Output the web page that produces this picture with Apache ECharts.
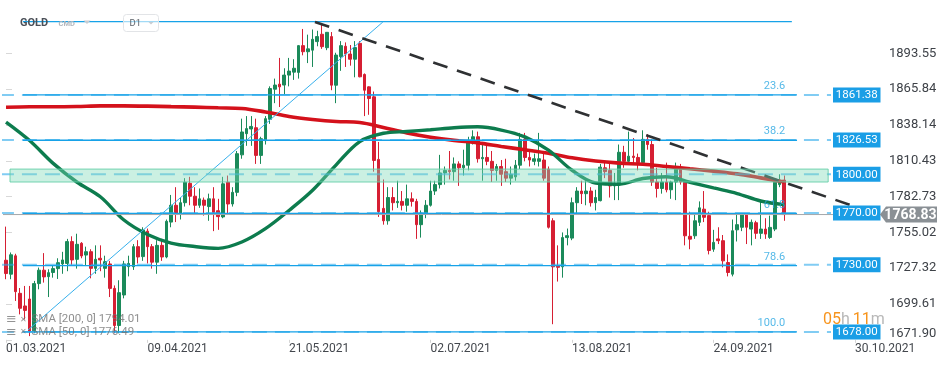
<!DOCTYPE html>
<html><head><meta charset="utf-8">
<script src="https://cdn.jsdelivr.net/npm/echarts@6/dist/echarts.min.js"></script>
<style>html,body{margin:0;padding:0;background:#fff}#c{width:950px;height:365px}</style>
</head><body><div id="c"></div>
<script>
// ---------- data ----------
const tickLabels = ['01.03.2021','09.04.2021','21.05.2021','02.07.2021','13.08.2021','24.09.2021','30.10.2021'];
const tickIndex = [0,30,60,90,120,150,180];
const slotCount = 186;

const open = [1733.5,1722.7,1736.9,1707.9,1698.1,1703.5,1679,1715.4,1725.8,1720.8,
1724,1727,1730.6,1731,1747.9,1734.2,1746.6,1737.5,1740.1,1727.2,
1735,1727.2,1730.6,1711.7,1683,1706.6,1728.5,1728.5,1744,1736.3,
1756,1744,1732,1745,1736,1763,1776,1770,1778,1793,
1783,1776,1780,1775,1781,1771.8,1767,1793.8,1777,1786,
1815,1831.4,1835,1836,1814.6,1826,1842.5,1865.8,1869.7,1869,
1876.7,1879,1878.8,1899.5,1894.8,1896,1902.6,1908.3,1897.9,1906.5,
1868.9,1891,1899,1893,1889,1901.3,1877.2,1867.6,1859.9,1811.5,
1773.6,1764,1782,1778,1779,1776,1781,1779,1761,1770,
1776,1787,1792,1801,1803,1802,1808,1805,1807,1826,
1829,1812,1813,1810,1803,1806,1802,1797,1798,1807,
1827,1813,1810,1810,1811,1804,1764,1729,1728.4,1751,
1750.6,1778,1787,1785,1787,1778,1779.6,1805,1803,1791,
1792,1817,1810,1814,1813,1809,1827,1823,1794,1789,
1794,1788,1794,1805,1793.8,1752,1752.4,1762.8,1773,1768,
1742,1750,1748.6,1731.7,1722.7,1757,1759,1769.3,1757.6,1762.5,
1754.3,1757.6,1751.1,1757.6,1792,1795.5];
const high = [1759.5,1739.5,1738.5,1712,1713.6,1713.6,1717.5,1727.8,1739,1726.5,
1729,1735,1740,1750,1752,1754,1747.5,1744,1742,1745,
1745,1737,1733,1714,1718,1733,1737,1746,1749,1759,
1758,1746,1749,1750,1765,1784,1790,1782,1797,1798,
1790,1789,1782,1785,1790,1781,1798,1799,1790,1818,
1843,1845,1845,1843,1829,1845,1868,1874,1890,1882,
1890,1889,1900,1912.4,1908,1912,1911,1916,1910,1910,
1894,1903,1902,1900,1903,1903,1878,1868,1864,1825,
1796,1790,1790,1795,1787,1792,1786,1781,1772,1780,
1795,1795,1815,1806,1818,1813,1810,1819,1829,1834,
1833,1825,1823,1818,1808,1811,1812,1806,1811,1832,
1832,1819,1816,1832,1816,1806,1766,1745,1755,1758,
1782,1790,1795,1795,1790,1788,1808,1809,1808,1801,
1823,1822,1833,1828,1816,1834,1831,1827,1805,1801,
1809,1795,1809,1808,1795,1771,1770,1779,1787,1771,
1757,1759,1753,1738,1765,1770,1770,1770,1765,1764,
1780,1766,1768,1796,1800,1799];
const low = [1718.8,1718.8,1702,1691.6,1687.7,1674.8,1677,1711,1716.2,1705,
1720,1719,1723,1725,1730,1727,1735,1729,1719.5,1723,
1725,1720,1705,1677,1677,1704,1721,1726,1731,1733,
1731,1727,1723,1733,1735,1759,1763,1765,1775,1776,
1770,1774,1768,1764,1756,1757,1766,1770,1775,1783,
1812,1822,1822,1808,1808,1823,1839,1855,1852,1862,
1868,1873,1874,1892,1886,1883,1899,1897,1896,1865,
1855,1880,1883,1884,1875,1875,1845,1846,1802,1767,
1761,1761,1772,1774,1772,1771,1775,1750,1751,1766,
1775,1784,1789,1792,1796,1795,1791,1799,1803,1823,
1809,1795,1807,1794,1795,1791,1794,1792,1795,1804,
1810,1806,1807,1806,1795,1758,1684,1717,1720,1745,
1749,1770,1777,1776,1775,1772,1779,1797,1782,1780,
1780,1805,1809,1808,1803,1808,1819,1791,1782,1785,
1786,1781,1780,1792,1745,1742,1750,1760,1763,1738,
1740,1746,1728,1721,1721,1748,1756,1746,1745,1750,
1750,1750,1750,1756,1790,1764];
const close = [1723.2,1737.7,1709.2,1696.3,1694.7,1678.7,1715.4,1725.8,1720.6,1723.9,
1727,1731.6,1733.7,1747.9,1733.7,1745.8,1736.8,1740.1,1727.2,1734.2,
1733.7,1732.4,1711.7,1683,1708.4,1730.6,1731,1744,1736,1756.9,
1744,1732,1745,1736,1763.6,1776,1770,1778,1793.8,1783,
1776,1781,1776,1781,1770.5,1767.2,1792.6,1777,1786,1815.9,
1832.7,1835.3,1837,1814.6,1827.5,1843,1866.3,1869,1867.6,1876.7,
1879.8,1882,1899.5,1894.8,1897,1904.4,1906.5,1898.7,1909.8,1868.9,
1892.2,1899.5,1893,1889,1898,1875.4,1865,1858.6,1810.7,1771,
1764,1782,1778,1779,1776,1781,1779,1761,1770,1776,
1787,1792,1801,1803,1802,1808,1805,1807,1826,1829,
1812,1813,1810,1803,1806,1800,1797,1800,1807,1827,
1813,1811,1812,1812,1797,1759,1728.4,1728,1751,1752.5,
1778,1787,1785,1787,1778,1782,1805.5,1802,1791,1793,
1817,1810,1814,1813,1809,1827,1823,1794,1789,1794,
1788,1794,1805,1794,1752.4,1749.8,1764,1774,1766.7,1741,
1747.3,1748.6,1733,1724,1756.3,1761,1769.3,1759,1762.8,1754.3,
1757.6,1753.7,1758.9,1793.8,1795.5,1768.83];

const smaIndex = [0,5,10,15,20,25,30,35,40,45,50,55,60,65,70,75,80,85,90,95,100,105,110,115,120,125,130,135,140,145,150,155,160,165];
const sma200 = [1851.8,1852.2,1852.2,1852.4,1852.9,1852.9,1852.7,1852.3,1851.9,1851.4,1850.9,1848.2,1844.7,1842.4,1840.8,1840.1,1836.2,1832.0,1828.7,1826.2,1824.3,1821.5,1818.9,1816.2,1812.7,1810.2,1808.6,1807.7,1806.0,1804.2,1802.4,1800.3,1797.2,1794.01];
const sma50 = [1840.4,1826.1,1808.4,1794.0,1782.6,1764.6,1753.4,1746.8,1744.1,1742.7,1747.6,1757.9,1772.0,1787.6,1807.3,1825.3,1831.7,1833.1,1834.4,1836.0,1836.7,1834.2,1828.9,1818.6,1803.1,1793.2,1792.3,1796.7,1798.1,1793.8,1789.4,1785.1,1779.3,1776.49];

const yTicks = [1671.90,1699.61,1727.32,1755.02,1782.73,1810.43,1838.14,1865.84,1893.55];
const levelPrices = [1861.38,1826.53,1800.00,1770.00,1730.00,1678.00];
const fibHigh = 1918.0, fibLow = 1678.0;
const fibRatios = [0,0.236,0.382,0.618,0.786,1];
const fibLabels = ['','23.6','38.2','61.8','78.6','100.0'];
const zoneRange = [1794, 1804];
const trendDown = [[65.5,1917.8],[180,1775.0]];
const trendUp = [[4.66,1679.5],[79.9,1917.8]];
const lastPrice = 1768.83;
const legendTexts = ['SMA [200, 0] 1794.01','SMA [50, 0] 1776.49'];

// ---------- chart ----------
const FONT = 'Roboto, "Noto Sans", sans-serif';
const chart = echarts.init(document.getElementById('c'), null, {renderer:'canvas'});
const candles = open.map((o,i)=>[o, close[i], low[i], high[i]]);
const X0 = -1.5, XEND_LEVEL = 174.9, FIB_X0 = 3.6, FIB_X1 = 167.7, ZONE_X0 = 0.85, ZONE_X1 = 174.3, LBL_X = 165.2;

const series = [];
series.push({
  type:'candlestick', xAxisIndex:0, yAxisIndex:0, data:candles, barWidth:3.2, z:2,
  itemStyle:{color:'#1b8a5a', color0:'#d61f33', borderColor:'#1b8a5a', borderColor0:'#d61f33', borderWidth:1}
});
function lineSeries(data, style, z, extra){
  return Object.assign({type:'line', xAxisIndex:1, yAxisIndex:0, data, showSymbol:false, symbol:'none',
    lineStyle:style, z, silent:true, animation:false, clip:true}, extra||{});
}
series.push(lineSeries(smaIndex.map((x,i)=>[x, sma200[i]]), {color:'#d4111b', width:3.6}, 3, {smooth:0.35}));
series.push(lineSeries(smaIndex.map((x,i)=>[x, sma50[i]]), {color:'#0d7c4e', width:3.4}, 3, {smooth:0.35}));
// dashed horizontal levels
levelPrices.forEach(p=>{
  series.push(lineSeries([[X0,p],[XEND_LEVEL,p]], {color:'rgba(45,170,235,0.6)', width:2, type:[15,8]}, 4));
});
// current price line
series.push(lineSeries([[X0,lastPrice],[185.5,lastPrice]], {color:'#a4a7aa', width:1}, 4));
// fibonacci solid lines
fibRatios.forEach((r,i)=>{
  const p = fibHigh - r*(fibHigh - fibLow);
  series.push(lineSeries([[FIB_X0,p],[i===0?166.6:FIB_X1,p]], {color:'#17a2e8', width:1.3}, 5));
});
// trend lines
series.push(lineSeries(trendUp, {color:'#37b0ec', width:1}, 5));
series.push(lineSeries(trendDown, {color:'#2f3133', width:2.6, type:[15,10]}, 5));
// zone
series.push(lineSeries([], {width:0}, 10, {
  markArea:{silent:true, z:10, itemStyle:{color:'rgba(125,218,182,0.4)', borderColor:'rgba(95,205,165,0.85)', borderWidth:1},
    data:[[{coord:[ZONE_X0, zoneRange[1]]},{coord:[ZONE_X1, zoneRange[0]]}]]}
}));
// fib labels
series.push({
  type:'scatter', xAxisIndex:1, yAxisIndex:0, symbolSize:0, z:11, silent:true,
  data: fibRatios.map((r,i)=>({value:[LBL_X, fibHigh - r*(fibHigh-fibLow)], name:fibLabels[i]})).filter(d=>d.name),
  label:{show:true, position:'top', align:'right', distance:3, formatter:p=>p.name, color:'#2aa7e2', fontSize:11, fontFamily:FONT}
});

const option = {
  animation:false,
  backgroundColor:'#ffffff',
  grid:{left:3.64, right:69, top:0, bottom:25.15, containLabel:false},
  xAxis:[{
    type:'category', data:Array.from({length:slotCount},(_,i)=>i), boundaryGap:true,
    axisLine:{show:false},
    axisTick:{show:true, alignWithLabel:true, interval:(i)=>tickIndex.includes(i), length:3, lineStyle:{color:'#d5d5d5'}},
    axisLabel:{show:true, interval:(i)=>tickIndex.includes(i), align:'left', margin:3,
      formatter:(v,i)=>{const k=tickIndex.indexOf(i); return k>=0?tickLabels[k]:'';},
      color:'#43474d', fontSize:12, fontFamily:FONT},
    splitLine:{show:false}
  },{
    type:'value', min:-0.5, max:slotCount-0.5, show:false
  }],
  yAxis:[{
    type:'value', position:'right', min:1671.9, max:1934.8, scale:true,
    axisLine:{show:false},
    axisTick:{show:true, length:6, customValues:yTicks, lineStyle:{color:'#d8d8d8'}},
    axisLabel:{show:true, customValues:yTicks, margin:8, formatter:v=>v.toFixed(2), color:'#3e4248', fontSize:13, fontFamily:FONT,
      showMinLabel:true, verticalAlignMinLabel:'bottom'},
    splitLine:{show:false}
  }],
  series
};
chart.setOption(option);

// ---------- overlay texts / boxes ----------
const yPix = p => chart.convertToPixel({yAxisIndex:0}, p);
const graphics = [];
// header
graphics.push({type:'text', style:{text:'GOLD', x:20, y:23, fill:'#4b5058', fontSize:11, fontWeight:'bold', fontFamily:FONT, verticalAlign:'middle'}, z:50});
graphics.push({type:'text', style:{text:'CMD', x:58.5, y:24, fill:'#b3b7bd', fontSize:7.5, fontWeight:'bold', fontFamily:FONT, verticalAlign:'middle'}, z:50});
graphics.push({type:'polygon', shape:{points:[[83.5,20.5],[90.5,20.5],[87,24]]}, style:{fill:'#c9ccd1'}, z:50});
graphics.push({type:'rect', shape:{x:123.5, y:14.5, width:35, height:17, r:3}, style:{fill:'rgba(255,255,255,0.6)', stroke:'#e2e4e7', lineWidth:1}, z:50});
graphics.push({type:'text', style:{text:'D1', x:129.5, y:23.5, fill:'#5e636b', fontSize:9.5, fontFamily:FONT, verticalAlign:'middle'}, z:51});
graphics.push({type:'polygon', shape:{points:[[148.5,22],[153.5,22],[151,24.5]]}, style:{fill:'#c9ccd1'}, z:51});
// legend rows
legendTexts.forEach((t,i)=>{
  const y = 319.5 + i*12.7;
  graphics.push({type:'text', style:{text:'≡', x:6, y:y, fill:'rgba(120,120,120,0.8)', fontSize:13, fontFamily:'DejaVu Sans', verticalAlign:'middle'}, z:50});
  graphics.push({type:'text', style:{text:'✕', x:20, y:y, fill:'rgba(120,120,120,0.8)', fontSize:8, fontFamily:'DejaVu Sans', verticalAlign:'middle'}, z:50});
  graphics.push({type:'text', style:{text:t, x:31.5, y:y, fill:'rgba(115,115,115,0.8)', fontSize:11.5, fontFamily:FONT, verticalAlign:'middle'}, z:50});
});
// timer
graphics.push({type:'text', style:{text:'{o|05}{g|h} {o|11}{g|m}', x:823, y:319.5, verticalAlign:'middle', fontFamily:FONT,
  rich:{o:{fill:'#f7941d', fontSize:16, fontFamily:FONT}, g:{fill:'#b8b8b8', fontSize:16, fontFamily:FONT}}}, z:50});
// level boxes
levelPrices.forEach(p=>{
  const y = yPix(p);
  graphics.push({type:'rect', shape:{x:833, y:y-7.5, width:47.5, height:15}, style:{fill:'#1a9ee6'}, z:60});
  graphics.push({type:'text', style:{text:p.toFixed(2), x:856.7, y:y+0.5, fill:'#ffffff', fontSize:11.5, fontFamily:FONT, align:'center', verticalAlign:'middle'}, z:61});
});
// last price box
{
  const y = yPix(lastPrice);
  graphics.push({type:'polygon', shape:{points:[[880,y],[886,y-8],[937,y-8],[937,y+8],[886,y+8]]}, style:{fill:'#8a9095'}, z:60});
  graphics.push({type:'text', style:{text:lastPrice.toFixed(2), x:910.5, y:y+0.5, fill:'#ffffff', fontSize:14, fontWeight:'bold', fontFamily:FONT, align:'center', verticalAlign:'middle'}, z:61});
}
chart.setOption({graphic:graphics});
</script>
</body></html>
